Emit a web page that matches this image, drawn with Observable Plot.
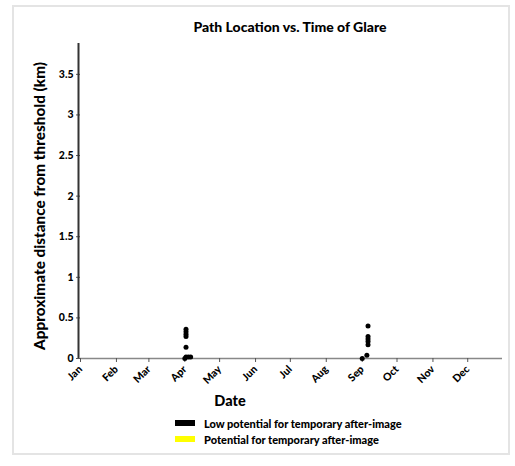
<!DOCTYPE html>
<html>
<head>
<meta charset="utf-8">
<script src="https://cdn.jsdelivr.net/npm/d3@7"></script>
<script src="https://cdn.jsdelivr.net/npm/@observablehq/plot@0.6"></script>
<style>
  html, body { margin: 0; padding: 0; background: #fff; }
  #wrap { position: relative; width: 515px; height: 466px; font-family: Lato, "Open Sans", sans-serif; overflow: hidden; }
  #frame { position: absolute; left: 12px; top: 5px; width: 498px; height: 450px; border: 2px solid #e4e4e4; box-sizing: border-box; }
  #title { position: absolute; left: 0; width: 580px; top: 18px; text-align: center; font-weight: 900; font-size: 14px; color: #000; }
  #chart { position: absolute; left: 0; top: 0; }
  #ylabel { position: absolute; left: 39px; top: 206px; transform: translate(-50%, -50%) rotate(-90deg); white-space: nowrap; font-weight: 900; font-size: 15.3px; color: #000; }
  #xlabel { position: absolute; left: 205px; width: 50px; text-align: center; top: 392px; font-weight: 900; font-size: 14.5px; color: #000; }
  #legend { position: absolute; left: 175px; top: 415px; font-weight: 900; font-size: 11px; color: #000; }
  .row { display: flex; align-items: center; height: 16px; }
  .sw { width: 20px; height: 6px; margin-right: 9px; }
</style>
</head>
<body>
<div id="wrap">
  <div id="frame"></div>
  <div id="chart"></div>
  <div id="title">Path Location vs. Time of Glare</div>
  <div id="ylabel">Approximate distance from threshold (km)</div>
  <div id="xlabel">Date</div>
  <div id="legend"></div>
</div>
<script>
// Data: glare occurrences (date, approximate distance from threshold in km)
const lowDates = ["2023-04-01","2023-04-02","2023-04-02","2023-04-02","2023-04-02","2023-04-02","2023-04-02","2023-04-04","2023-04-06",
                  "2023-09-01","2023-09-05","2023-09-06","2023-09-06","2023-09-06","2023-09-06","2023-09-06"];
const lowValues = [0.0, 0.02, 0.14, 0.27, 0.30, 0.33, 0.36, 0.02, 0.02,
                   0.0, 0.04, 0.17, 0.21, 0.24, 0.27, 0.40];
const potentialDates = [];
const potentialValues = [];
const yTicks = [0, 0.5, 1, 1.5, 2, 2.5, 3, 3.5];
const monthLabels = ["Jan","Feb","Mar","Apr","May","Jun","Jul","Aug","Sep","Oct","Nov","Dec"];
const legendLabels = ["Low potential for temporary after-image", "Potential for temporary after-image"];
const legendColors = ["#000000", "#ffff00"];

const low = lowDates.map((d, i) => ({date: new Date(d), value: lowValues[i]}));
const pot = potentialDates.map((d, i) => ({date: new Date(d), value: potentialValues[i]}));
const monthTicks = monthLabels.map((m, i) => new Date(Date.UTC(2023, i, 1)));

const chart = Plot.plot({
  width: 515,
  height: 395,
  marginLeft: 80,
  marginRight: 13,
  marginTop: 43,
  marginBottom: 37,
  style: {fontFamily: "Lato, 'Open Sans', sans-serif", fontWeight: 900, fontSize: "10.5px", color: "#000", background: "transparent"},
  x: {type: "utc", domain: [new Date("2023-01-01"), new Date("2023-12-31")]},
  y: {domain: [0, 3.88]},
  marks: [
    Plot.ruleY([0], {stroke: "#888", strokeWidth: 1.5}),
    Plot.axisX({ticks: monthTicks, tickFormat: (d) => monthLabels[d.getUTCMonth()], tickRotate: -45, tickSize: 4, tickPadding: 5, label: null, stroke: "#555", fill: "#000"}),
    Plot.axisY({ticks: yTicks, tickFormat: d3.format("~g"), tickSize: 4, tickPadding: 3, label: null, stroke: "#555", fill: "#000"}),
    Plot.ruleX([new Date("2023-01-01")], {stroke: "#333", strokeWidth: 2, dx: -2}),
    Plot.dot(pot, {x: "date", y: "value", fill: legendColors[1], r: 2.5, symbol: "square"}),
    Plot.dot(low, {x: "date", y: "value", fill: legendColors[0], r: 2.5})
  ]
});
document.getElementById("chart").appendChild(chart);

const legend = document.getElementById("legend");
legendLabels.forEach((lab, i) => {
  const row = document.createElement("div");
  row.className = "row";
  const sw = document.createElement("div");
  sw.className = "sw";
  sw.style.background = legendColors[i];
  const tx = document.createElement("span");
  tx.textContent = lab;
  row.appendChild(sw); row.appendChild(tx);
  legend.appendChild(row);
});
</script>
</body>
</html>
